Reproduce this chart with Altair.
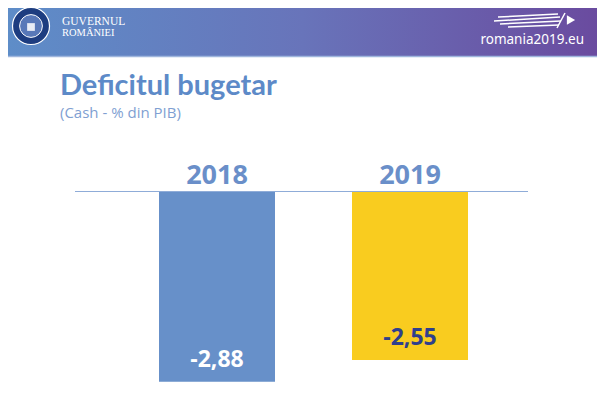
import altair as alt
import pandas as pd

years = ["2018", "2019"]
values = [-2.88, -2.55]
value_labels = ["-2,88", "-2,55"]
bar_colors = ["#6790c9", "#f9cc1f"]
label_colors = ["#ffffff", "#2f3f8c"]

title_text = "Deficitul bugetar"
subtitle_text = "(Cash - % din PIB)"

W, H = 589, 391
FONT = "Open Sans"

df = pd.DataFrame({
    "year": years,
    "value": values,
    "label": value_labels,
    "bar_color": bar_colors,
    "label_color": label_colors,
})
one = pd.DataFrame({"a": [0]})

xscale = alt.Scale(domain=years, range=[16, 595], paddingInner=0.399, paddingOuter=0.6995)
yscale = alt.Scale(domain=[-3.142, 2.779], nice=False, zero=False)
X = alt.X("year:N", scale=xscale, axis=None)

# header band
header = alt.Chart(one).mark_rect(
    fill=alt.LinearGradient(
        gradient="linear",
        stops=[
            alt.GradientStop(color="#5e8dc8", offset=0),
            alt.GradientStop(color="#6874ba", offset=0.5),
            alt.GradientStop(color="#6a4b9f", offset=1),
        ],
        x1=0, x2=1, y1=0, y2=0,
    )
).encode(x=alt.value(0), x2=alt.value(W), y=alt.value(0), y2=alt.value(49))

header_line = alt.Chart(one).mark_rule(color="#9fb6dd", strokeWidth=1.5).encode(
    x=alt.value(0), x2=alt.value(W), y=alt.value(48.5)
)

emblem = alt.Chart(one).mark_point(
    shape="circle", filled=True, fill="#1d3d80", stroke="#ffffff", strokeWidth=1.2, size=1370, opacity=1
).encode(x=alt.value(23), y=alt.value(18))
emblem_inner = alt.Chart(one).mark_point(
    shape="circle", filled=True, fill="#5878b8", stroke="#ffffff", strokeWidth=1, size=520, opacity=1
).encode(x=alt.value(23), y=alt.value(18))
emblem_shield = alt.Chart(one).mark_point(
    shape="square", filled=True, fill="#e8ecf5", size=60, opacity=1
).encode(x=alt.value(23), y=alt.value(19))

gov1 = alt.Chart(one).mark_text(
    text="GUVERNUL", font="Liberation Serif", fontSize=11.5, color="#ffffff", align="left", baseline="alphabetic"
).encode(x=alt.value(54), y=alt.value(17))
gov2 = alt.Chart(one).mark_text(
    text="ROMÂNIEI", font="Liberation Serif", fontSize=10.5, color="#ffffff", align="left", baseline="alphabetic"
).encode(x=alt.value(54), y=alt.value(28))

site = alt.Chart(one).mark_text(
    text="romania2019.eu", font="Noto Sans", fontSize=13.5, color="#ffffff", align="right", baseline="alphabetic"
).encode(x=alt.value(576), y=alt.value(36))

wave_segments = pd.DataFrame({
    "x": [490, 486, 492, 500], "y": [9, 13, 16, 19], "x2": [550, 552, 553, 551], "y2": [6, 9, 13, 17]
})
wave = alt.Chart(wave_segments).mark_rule(color="#ffffff", strokeWidth=1.5).encode(
    x=alt.X("x:Q", scale=None), y=alt.Y("y:Q", scale=None),
    x2="x2:Q", y2="y2:Q",
)
quill = alt.Chart(one).mark_rule(color="#ffffff", strokeWidth=1.5).encode(
    x=alt.value(549), y=alt.value(20), x2=alt.value(557), y2=alt.value(5)
)
wave_tip = alt.Chart(one).mark_point(
    shape="triangle-right", filled=True, fill="#ffffff", size=90, opacity=1
).encode(x=alt.value(563), y=alt.value(12))

title = alt.Chart(one).mark_text(
    text=title_text, font="Lato", fontSize=29, fontWeight="bold", color="#5d8ac8",
    align="left", baseline="alphabetic"
).encode(x=alt.value(52), y=alt.value(87))
subtitle = alt.Chart(one).mark_text(
    text=subtitle_text, font=FONT, fontSize=15, color="#7f9fd2",
    align="left", baseline="alphabetic"
).encode(x=alt.value(52), y=alt.value(110))

bars = alt.Chart(df).mark_bar().encode(
    x=X,
    y=alt.Y("value:Q", scale=yscale, axis=None),
    y2=alt.Y2(datum=0),
    color=alt.Color("bar_color:N", scale=None, legend=None),
)

zero_line = alt.Chart(one).mark_rule(color="#8facd8", strokeWidth=1).encode(
    y=alt.Y(datum=0, scale=yscale), x=alt.value(67), x2=alt.value(520)
)

year_labels = alt.Chart(df).mark_text(
    font=FONT, fontSize=27, fontWeight="bold", color="#6a8fc9", baseline="alphabetic", dy=-8
).encode(
    x=X,
    y=alt.Y(datum=0, scale=yscale),
    text="year:N",
)

value_text = alt.Chart(df).mark_text(
    font=FONT, fontSize=23, fontWeight="bold", baseline="alphabetic", dy=-15
).encode(
    x=X,
    y=alt.Y("value:Q", scale=yscale),
    text="label:N",
    color=alt.Color("label_color:N", scale=None, legend=None),
)

chart = alt.layer(
    header, header_line, emblem, emblem_inner, emblem_shield, gov1, gov2, site, wave, quill, wave_tip,
    title, subtitle, bars, zero_line, year_labels, value_text,
).properties(
    width=W, height=H, padding=0, background="#ffffff",
    autosize=alt.AutoSizeParams(type="none"),
).configure_view(strokeWidth=0)

chart.save("out.html", embed_options={"renderer": "svg", "actions": False})
